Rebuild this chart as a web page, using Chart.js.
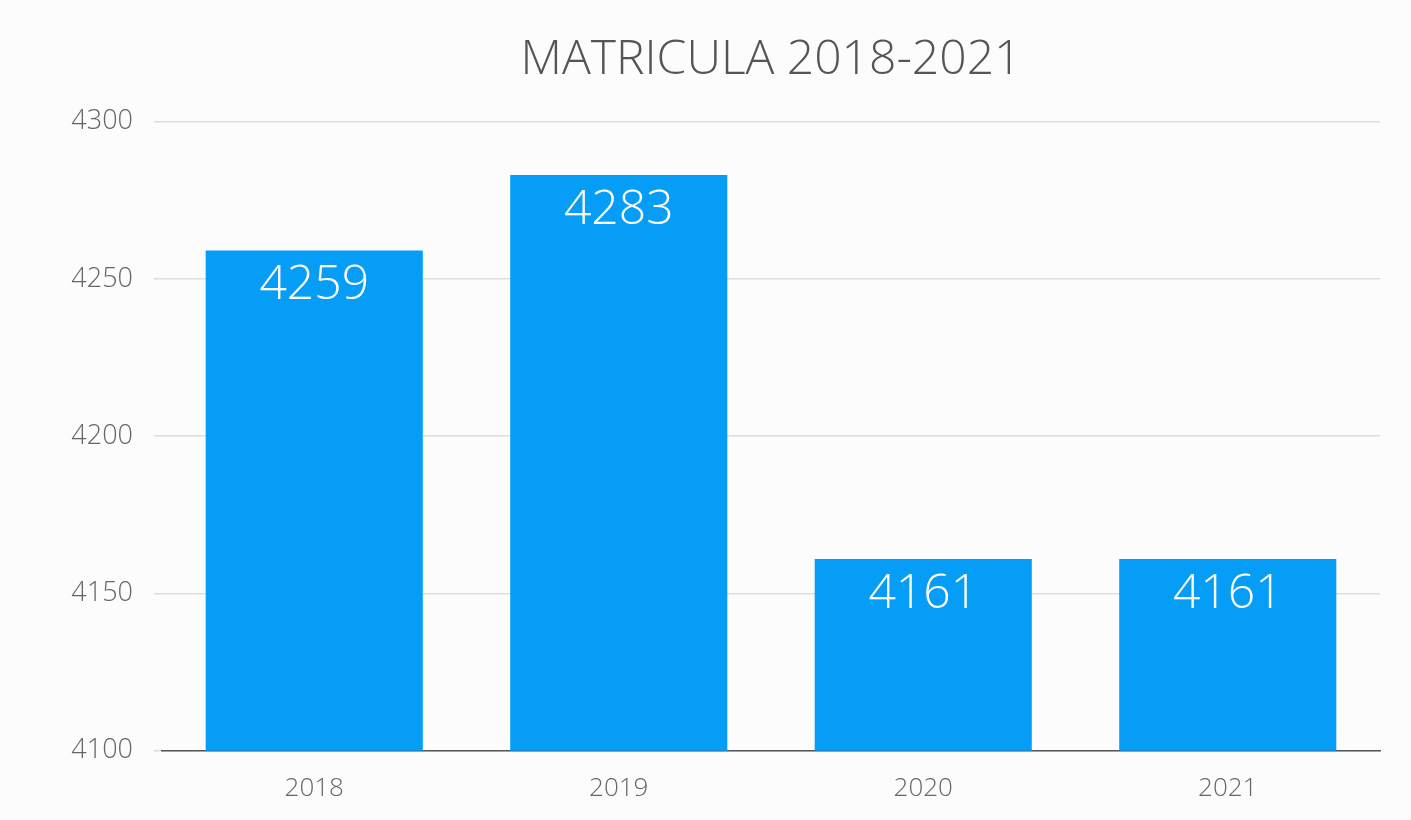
<!DOCTYPE html>
<html><head><meta charset="utf-8">
<script src="https://cdn.jsdelivr.net/npm/chart.js@4"></script>
<style>html,body{margin:0;padding:0;background:#fcfcfc;}#w{width:1411px;height:820px;}</style>
</head><body><div id="w"><canvas id="c" width="1411" height="820"></canvas></div>
<script>
const categories = ["2018", "2019", "2020", "2021"];
const enrolment = [4259, 4283, 4161, 4161];
const yTicks = [4100, 4150, 4200, 4250, 4300];
const FONT = "'Open Sans', 'Lato', sans-serif";

const barLabels = {
  id: 'barLabels',
  afterDatasetsDraw(chart) {
    const ctx = chart.ctx;
    const meta = chart.getDatasetMeta(0);
    ctx.save();
    ctx.fillStyle = '#ffffff';
    ctx.font = '300 48px ' + FONT;
    ctx.textAlign = 'center';
    ctx.textBaseline = 'top';
    meta.data.forEach((bar, i) => {
      ctx.fillText(String(enrolment[i]), bar.x, bar.y + 11);
    });
    ctx.restore();
  }
};

new Chart(document.getElementById('c'), {
  type: 'bar',
  data: {
    labels: categories,
    datasets: [{
      data: enrolment,
      backgroundColor: '#069df6',
      borderWidth: 0,
      categoryPercentage: 0.713,
      barPercentage: 1.0
    }]
  },
  options: {
    responsive: false,
    animation: false,
    layout: { padding: { left: 20, right: 31, top: 0, bottom: 2 } },
    plugins: {
      legend: { display: false },
      tooltip: { enabled: false },
      title: {
        display: true,
        text: 'MATRICULA 2018-2021',
        color: '#555555',
        fullSize: false,
        font: { family: FONT, size: 48, weight: '300' },
        padding: { top: 32, bottom: 32 }
      }
    },
    scales: {
      x: {
        grid: { display: false },
        border: { display: true, color: '#555555', width: 1.5 },
        ticks: { color: '#666666', font: { family: FONT, size: 26, weight: '300' }, padding: 14 }
      },
      y: {
        min: yTicks[0],
        max: yTicks[yTicks.length - 1],
        afterBuildTicks(axis) { axis.ticks = yTicks.map(v => ({ value: v })); },
        afterFit(axis) { axis.width = 142; },
        border: { display: false },
        grid: { color: '#dddddd', lineWidth: 1.5, tickLength: 8, drawTicks: true },
        ticks: {
          color: '#666666',
          font: { family: FONT, size: 27, weight: '300' },
          padding: 21,
          callback: (v) => String(v)
        }
      }
    }
  },
  plugins: [barLabels]
});
</script>
</body></html>
